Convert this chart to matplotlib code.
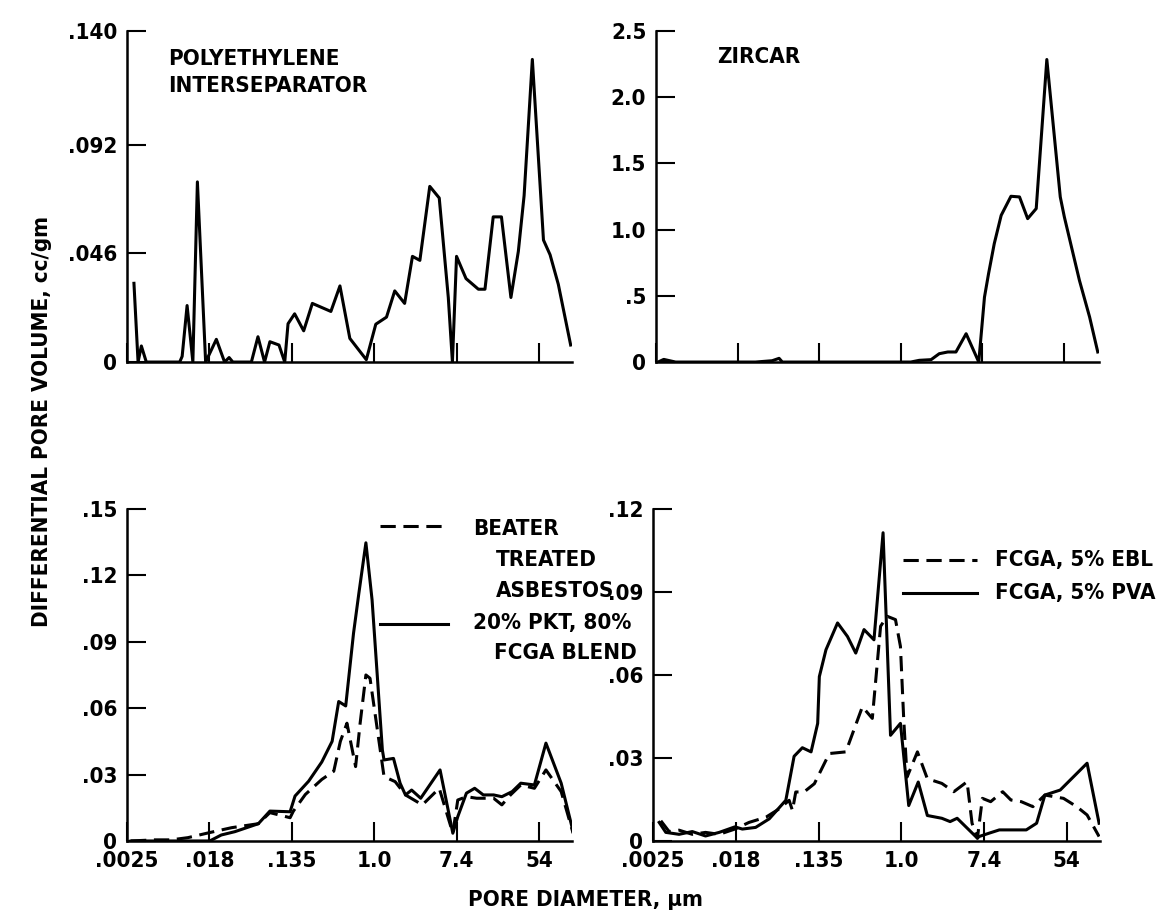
import matplotlib
matplotlib.use('Agg')
import matplotlib.pyplot as plt

plt.rcParams['font.family'] = ['DejaVu Sans']
plt.rcParams['font.stretch'] = 'condensed'
plt.rcParams['font.weight'] = 'bold'

# x values: natural log of pore diameter (um)
x_ticks = [-6, -4, -2, 0, 2, 4]
x_tick_labels = ['.0025', '.018', '.135', '1.0', '7.4', '54']

# polyethylene interseparator
poly_lnd = [-5.83, -5.73, -5.65, -5.53, -4.72, -4.66, -4.54, -4.40, -4.29, -4.09,
            -3.83, -3.63, -3.52, -3.43, -2.98, -2.82, -2.66, -2.53, -2.31, -2.17,
            -2.09, -1.93, -1.71, -1.50, -1.05, -0.83, -0.59, -0.19, 0.04, 0.30,
            0.50, 0.74, 0.93, 1.11, 1.35, 1.58, 1.80, 1.90, 2.00, 2.23,
            2.53, 2.69, 2.89, 3.09, 3.32, 3.50, 3.64, 3.84, 4.11, 4.27,
            4.47, 4.77]
poly_vol = [.0333, 0, .0068, 0, 0, .0024, .0239, 0, .0762, 0,
            .0096, 0, .0019, 0, 0, .0107, 0, .0086, .0072, 0,
            .0162, .0204, .0132, .0248, .0214, .0322, .0100, .0010, .0160, .0190,
            .0301, .0248, .0447, .0430, .0743, .0694, .0273, 0, .0447, .0353,
            .0308, .0308, .0614, .0614, .0273, .0468, .0704, .1280, .0516, .0454,
            .0329, .0072]

# zircar
zirc_lnd = [-5.95, -5.81, -5.52, -3.56, -3.15, -2.98, -2.90, 0.25, 0.46, 0.75,
            0.95, 1.16, 1.36, 1.61, 1.92, 2.06, 2.16, 2.30, 2.47, 2.71,
            2.92, 3.12, 3.33, 3.59, 3.92, 4.02, 4.39, 4.64, 4.84]
zirc_vol = [0, .02, 0, 0, .01, .028, 0, 0, .013, .018,
            .063, .076, .076, .214, 0, .49, .667, .894, 1.108, 1.252,
            1.247, 1.083, 1.159, 2.285, 1.247, 1.096, .617, .340, .076]

# beater treated asbestos (dashed)
asb_lnd = [-5.90, -5.33, -4.93, -4.52, -3.99, -3.46, -2.81, -2.53, -2.04, -1.96,
           -1.67, -1.27, -0.98, -0.82, -0.66, -0.45, -0.34, -0.20, -0.10, 0.24,
           0.51, 0.76, 1.17, 1.58, 1.91, 2.03, 2.24, 2.49, 2.90, 3.10,
           3.31, 3.56, 3.89, 4.17, 4.54, 4.83]
asb_vol = [0, .0005, .0005, .0015, .0038, .0060, .0078, .0128, .0105, .0135,
           .0210, .0278, .0315, .0450, .0532, .0336, .0532, .0750, .0735, .0291,
           .0268, .0208, .0163, .0238, .0035, .0185, .0200, .0193, .0193, .0163,
           .0208, .0253, .0238, .0321, .0223, .0035]

# 20% PKT, 80% FCGA blend (solid)
blend_lnd = [-5.90, -3.99, -3.71, -3.38, -2.81, -2.53, -2.04, -1.92, -1.59, -1.27,
             -1.02, -0.86, -0.69, -0.50, -0.37, -0.20, -0.05, 0.20, 0.24, 0.47,
             0.63, 0.76, 0.91, 1.13, 1.60, 1.91, 2.03, 2.24, 2.44, 2.65,
             2.90, 3.10, 3.35, 3.56, 3.89, 4.17, 4.54, 4.83]
blend_vol = [0, 0, .0027, .0042, .0078, .0135, .0132, .0203, .0270, .0357,
             .0450, .0630, .0610, .0939, .1120, .1347, .1089, .0411, .0366, .0373,
             .0261, .0208, .0230, .0193, .0321, .0035, .0110, .0216, .0238, .0208,
             .0208, .0200, .0223, .0261, .0253, .0442, .0261, .0042]

# FCGA, 5% EBL (dashed)
ebl_lnd = [-5.81, -5.61, -5.37, -5.05, -4.73, -4.40, -4.02, -3.68, -3.27, -2.95,
           -2.71, -2.63, -2.55, -2.35, -2.10, -1.74, -1.34, -0.94, -0.70, -0.50,
           -0.34, -0.14, -0.02, 0.06, 0.14, 0.39, 0.63, 0.98, 1.27, 1.59,
           1.71, 1.84, 1.96, 2.16, 2.45, 2.65, 2.90, 3.18, 3.47, 3.92,
           4.24, 4.49, 4.78]
ebl_vol = [.0073, .0034, .0039, .0024, .0031, .0024, .0043, .0067, .0086, .0116,
           .0147, .0110, .0177, .0177, .0207, .0316, .0322, .0485, .0443, .0776,
           .0812, .0800, .0703, .0437, .0231, .0322, .0225, .0208, .0178, .0214,
           .0064, .0010, .0154, .0142, .0178, .0148, .0142, .0124, .0166, .0154,
           .0124, .0094, .0016]

# FCGA, 5% PVA (solid)
pva_lnd = [-5.85, -5.69, -5.37, -5.05, -4.73, -4.40, -4.02, -3.84, -3.52, -3.19,
           -2.79, -2.59, -2.39, -2.18, -2.02, -1.98, -1.82, -1.54, -1.30, -1.10,
           -0.90, -0.66, -0.44, -0.26, -0.02, 0.18, 0.41, 0.63, 0.98, 1.18,
           1.35, 1.84, 1.88, 2.12, 2.37, 2.61, 3.02, 3.27, 3.47, 3.84,
           4.49, 4.78]
pva_vol = [.0067, .0031, .0024, .0034, .0018, .0031, .0051, .0043, .0049, .0080,
           .0147, .0306, .0337, .0322, .0425, .0594, .0691, .0788, .0739, .0679,
           .0764, .0727, .1114, .0382, .0425, .0128, .0213, .0092, .0082, .0070,
           .0082, .0010, .0016, .0028, .0040, .0040, .0040, .0064, .0166, .0184,
           .0281, .0064]

LW = 2.2
DASH = (5, 2.5)
FS = 16

fig = plt.figure(figsize=(11.7, 9.21), dpi=100)
ax_tl = fig.add_axes([0.1085, 0.6069, 0.3803, 0.3594])
ax_tr = fig.add_axes([0.5607, 0.6069, 0.3786, 0.3594])
ax_bl = fig.add_axes([0.1085, 0.0869, 0.3803, 0.3605])
ax_br = fig.add_axes([0.5581, 0.0869, 0.3820, 0.3605])


def style(ax, yticks, ylabels, ymax, xmax, show_x):
    for s in ['top', 'right']:
        ax.spines[s].set_visible(False)
    for s in ['left', 'bottom']:
        ax.spines[s].set_linewidth(1.8)
    ax.set_xlim(-6, xmax)
    ax.set_ylim(0, ymax)
    ax.set_xticks(x_ticks)
    ax.set_xticklabels(x_tick_labels if show_x else [])
    ax.set_yticks(yticks)
    ax.set_yticklabels(ylabels)
    ax.tick_params(direction='in', length=14, width=1.5, labelsize=FS)
    ax.tick_params(axis='y', pad=7)
    ax.tick_params(axis='x', pad=7)


ax_tl.plot(poly_lnd, poly_vol, color='black', lw=LW)
style(ax_tl, [0, .046, .092, .14], ['0', '.046', '.092', '.140'], 0.14, 4.8, False)
ax_tl.text(0.092, 0.945, 'POLYETHYLENE\nINTERSEPARATOR', transform=ax_tl.transAxes,
           fontsize=FS, va='top', ha='left', linespacing=1.45)

ax_tr.plot(zirc_lnd, zirc_vol, color='black', lw=LW)
style(ax_tr, [0, .5, 1.0, 1.5, 2.0, 2.5], ['0', '.5', '1.0', '1.5', '2.0', '2.5'],
      2.5, 4.87, False)
ax_tr.text(0.138, 0.921, 'ZIRCAR', transform=ax_tr.transAxes,
           fontsize=FS, va='center', ha='left')

ax_bl.plot(asb_lnd, asb_vol, color='black', lw=LW, dashes=DASH)
ax_bl.plot(blend_lnd, blend_vol, color='black', lw=LW)
style(ax_bl, [0, .03, .06, .09, .12, .15], ['0', '.03', '.06', '.09', '.12', '.15'],
      0.15, 4.8, True)
ax_bl.plot([0.569, 0.721], [0.949, 0.949], transform=ax_bl.transAxes, color='black',
           lw=LW, dashes=DASH, clip_on=False)
ax_bl.plot([0.569, 0.721], [0.652, 0.652], transform=ax_bl.transAxes, color='black',
           lw=LW, clip_on=False)
for tx, ty, s in [(0.778, 0.940, 'BEATER'), (0.829, 0.846, 'TREATED'),
                  (0.829, 0.753, 'ASBESTOS'), (0.778, 0.657, '20% PKT, 80%'),
                  (0.824, 0.566, 'FCGA BLEND')]:
    ax_bl.text(tx, ty, s, transform=ax_bl.transAxes, fontsize=FS, va='center',
               ha='left', clip_on=False)

ax_br.plot(ebl_lnd, ebl_vol, color='black', lw=LW, dashes=DASH)
ax_br.plot(pva_lnd, pva_vol, color='black', lw=LW)
style(ax_br, [0, .03, .06, .09, .12], ['0', '.03', '.06', '.09', '.12'],
      0.12, 4.8, True)
ax_br.plot([0.559, 0.725], [0.846, 0.846], transform=ax_br.transAxes, color='black',
           lw=LW, dashes=DASH, clip_on=False)
ax_br.plot([0.559, 0.725], [0.747, 0.747], transform=ax_br.transAxes, color='black',
           lw=LW, clip_on=False)
ax_br.text(0.765, 0.846, 'FCGA, 5% EBL', transform=ax_br.transAxes, fontsize=FS,
           va='center', ha='left', clip_on=False)
ax_br.text(0.765, 0.747, 'FCGA, 5% PVA', transform=ax_br.transAxes, fontsize=FS,
           va='center', ha='left', clip_on=False)

fig.text(0.5, 0.0228, 'PORE DIAMETER, \u00b5m', fontsize=FS, ha='center', va='center')
fig.text(0.036, 0.542, 'DIFFERENTIAL PORE VOLUME, cc/gm', fontsize=FS, ha='center',
         va='center', rotation=90)

fig.savefig('out.png', dpi=100)
